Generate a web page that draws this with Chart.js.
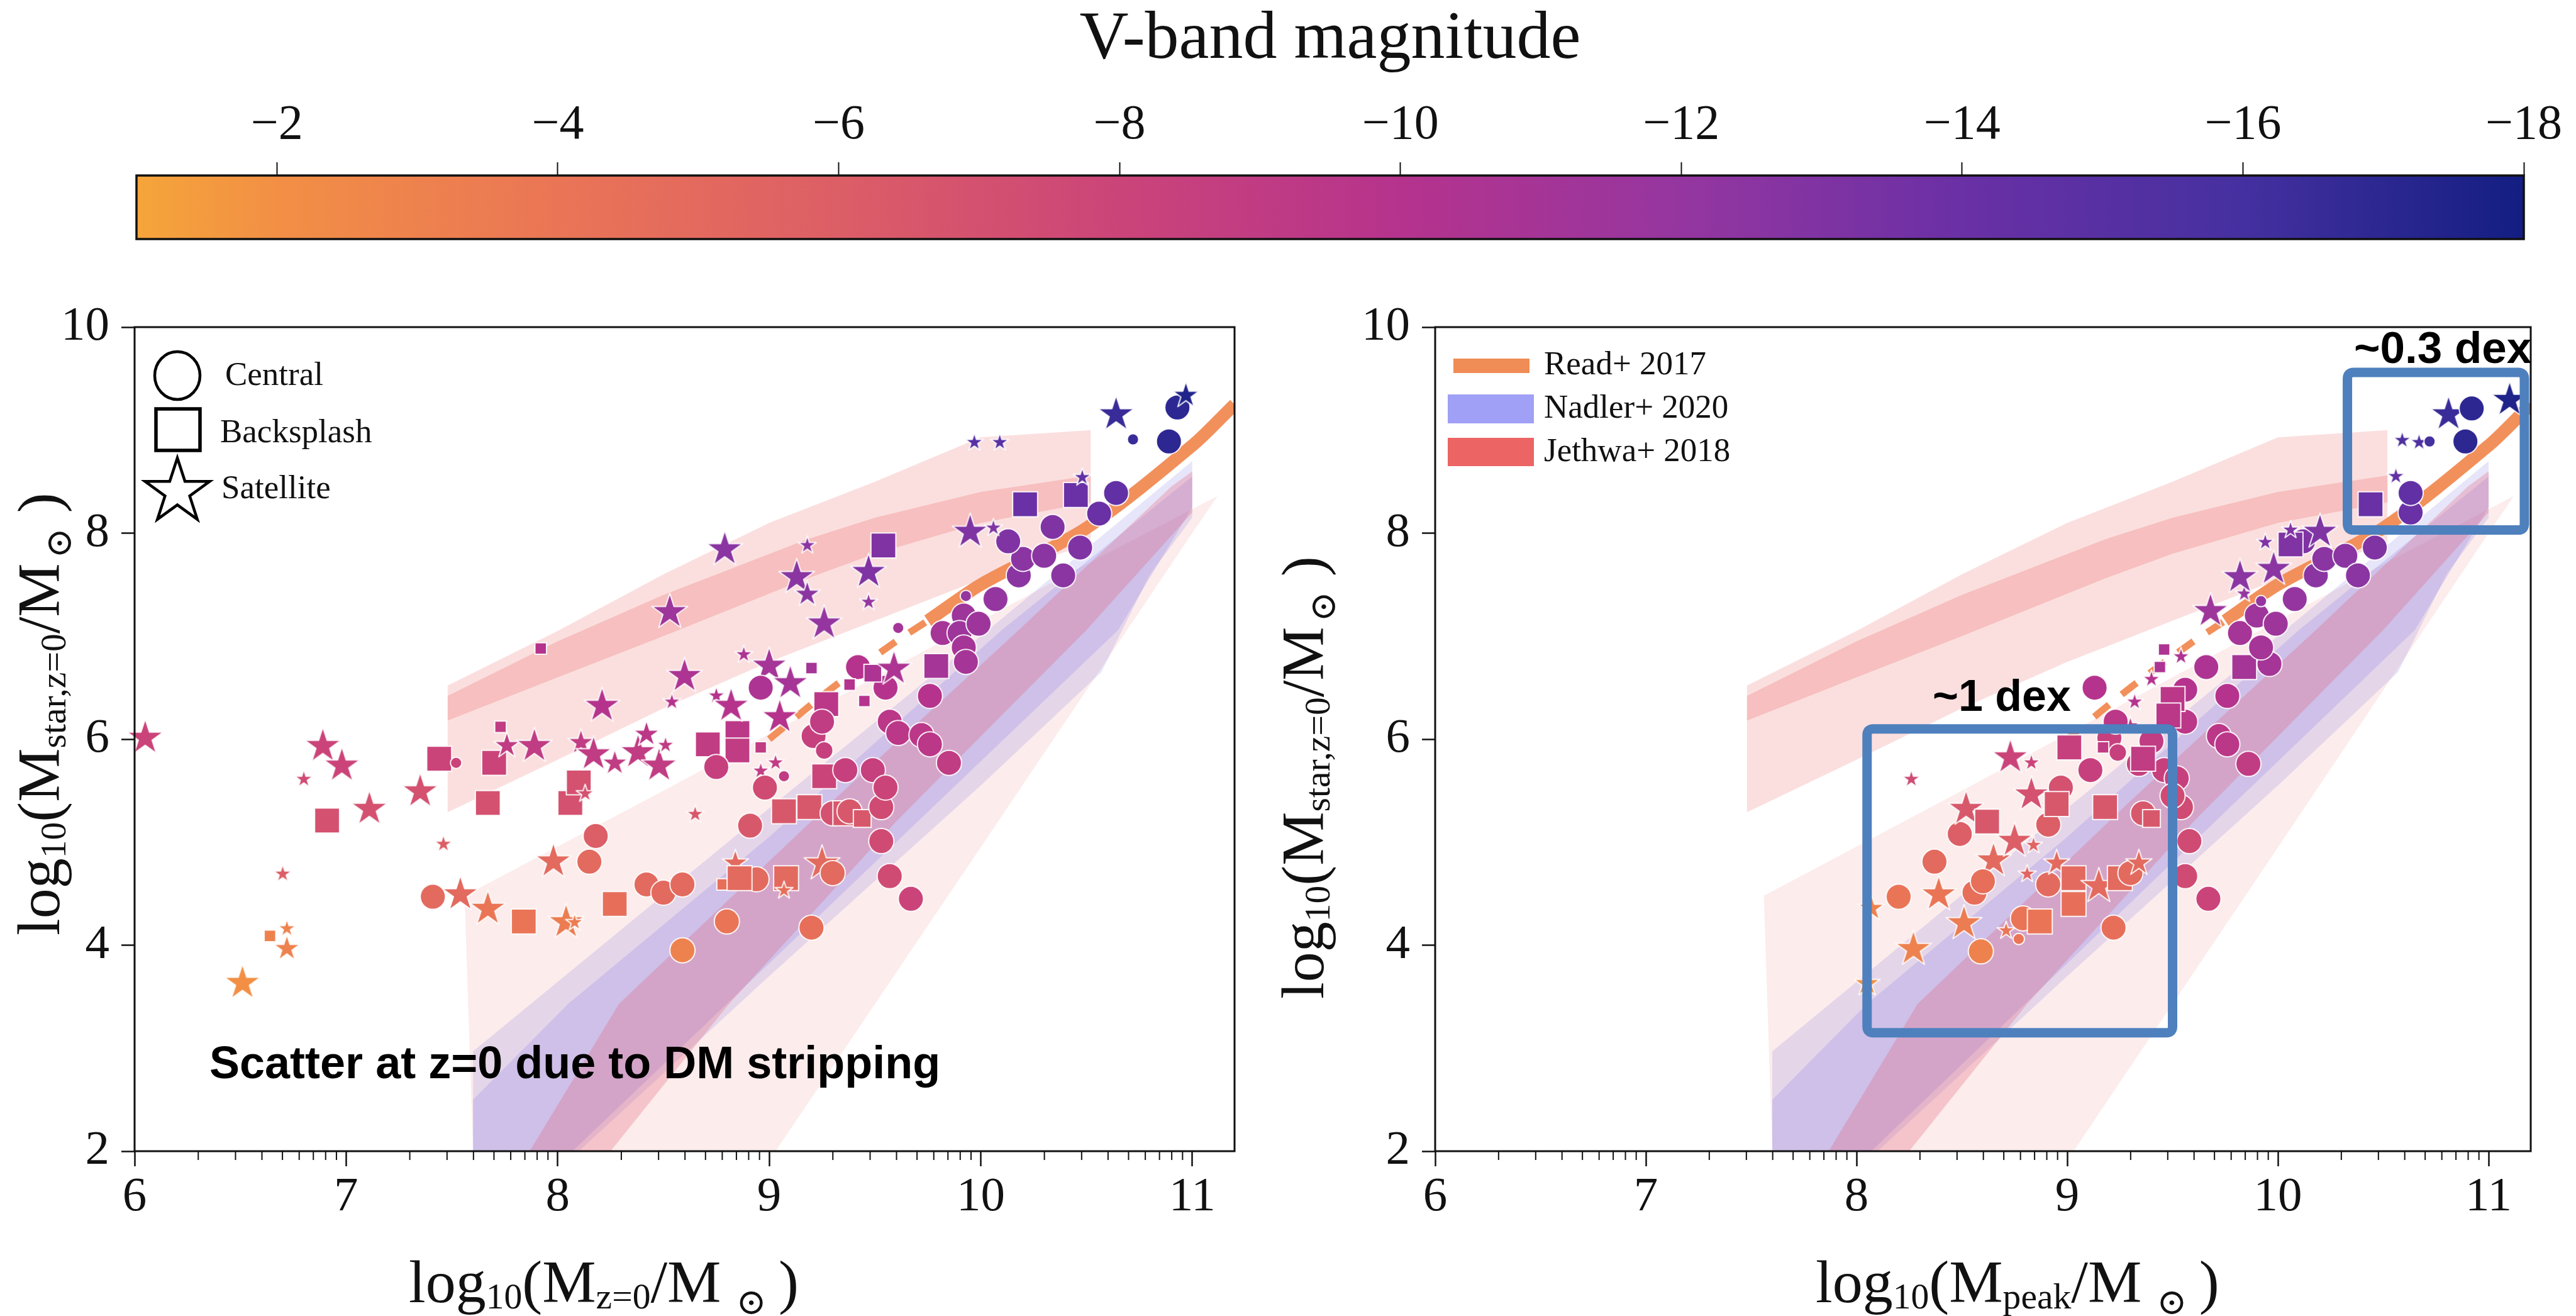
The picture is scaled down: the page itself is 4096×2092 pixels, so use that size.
<!DOCTYPE html>
<html><head><meta charset="utf-8">
<script src="https://cdn.jsdelivr.net/npm/chart.js@4.4.1/dist/chart.umd.min.js"></script>
<style>
html,body{margin:0;padding:0;background:#fff;width:4096px;height:2092px;overflow:hidden}
canvas{position:absolute;left:0;top:0}
</style></head><body>
<canvas id="cb" width="4096" height="2092"></canvas>
<canvas id="left" width="4096" height="2092"></canvas>
<canvas id="right" width="4096" height="2092"></canvas>
<script>
// ---------------- DATA ----------------
const cbTicks = [-2, -4, -6, -8, -10, -12, -14, -16, -18];
const cbRange = [-18, -1];
const xTicks = [6, 7, 8, 9, 10, 11];
const yTicks = [2, 4, 6, 8, 10];
const xRange = [6, 11.2];
const yRange = [2, 10];

// Left panel: log10(M_z=0) vs log10(M_star)
const leftX = [6.05,6.51,6.64,6.72,6.72,6.70,6.80,6.89,6.98,6.91,
 7.11,7.35,7.46,7.41,7.54,7.67,7.44,7.52,7.67,7.70,
 7.73,7.76,7.89,7.92,7.84,8.04,8.08,7.98,8.15,8.18,
 8.06,8.10,8.13,8.11,8.21,8.17,8.27,8.38,8.42,8.48,
 8.51,8.27,8.42,8.50,8.59,8.59,8.54,8.60,8.53,8.79,
 8.65,8.71,8.85,8.85,8.75,8.75,8.82,8.88,9.00,8.96,
 9.05,9.10,9.20,9.03,8.96,9.07,8.96,8.98,8.91,8.84,
 8.78,8.94,8.86,8.80,9.08,9.07,9.07,9.19,9.27,9.26,
 9.21,9.25,9.26,9.36,9.30,9.25,9.30,9.20,9.36,9.38,
 9.44,9.49,9.53,9.55,9.53,9.57,9.67,9.42,9.55,9.57,
 9.61,9.72,9.76,9.76,9.85,9.49,9.38,9.45,9.59,9.61,
 9.79,9.82,9.92,9.90,9.99,9.92,9.93,9.93,10.07,10.18,
 10.20,10.30,10.13,10.34,10.39,10.47,10.56,10.64,10.21,10.45,
 10.48,9.95,10.06,9.13,9.18,9.18,9.47,9.47,9.26,9.54,
 9.97,10.09,10.64,10.72,10.89,10.93,10.97];
const leftY = [6.03,3.65,4.09,4.17,3.98,4.70,5.62,5.95,5.76,5.21,
 5.34,5.51,4.99,4.47,4.51,4.37,5.81,5.77,5.38,5.77,
 6.12,5.95,5.95,6.88,4.23,4.24,4.23,4.83,4.81,5.06,
 5.38,5.58,5.48,5.98,6.34,5.87,5.78,5.89,6.06,5.76,
 5.95,4.40,4.59,4.51,4.59,3.95,6.37,6.63,7.25,7.86,
 5.28,5.95,6.06,5.89,5.73,6.43,6.34,6.83,6.73,6.50,
 6.23,6.56,6.69,5.78,5.70,5.64,5.92,5.53,5.16,4.81,
 4.59,4.64,4.65,4.23,4.65,4.54,5.30,5.34,6.34,5.64,
 6.03,6.17,5.89,5.70,5.28,4.81,4.70,4.17,5.28,5.30,
 5.23,5.70,5.34,5.53,5.01,4.67,4.45,6.70,6.50,6.17,
 6.06,6.04,6.42,5.95,5.77,6.64,6.53,6.37,6.70,7.08,
 6.71,7.03,7.20,7.03,7.12,6.89,6.75,7.39,7.36,7.59,
 7.75,7.78,7.92,8.06,7.59,7.86,8.19,8.39,8.28,8.37,
 8.55,8.03,8.06,7.59,7.42,7.89,7.64,7.34,7.14,7.88,
 8.89,8.89,9.17,8.91,8.89,9.22,9.35];
const leftMag = [-8,-2,-3,-3,-3,-6,-7.5,-8,-8,-7,
 -7,-7,-6,-5,-5,-4,-8,-8,-7,-8,
 -9,-9,-9,-10,-4,-3.5,-3.5,-5,-5,-6,
 -7,-7,-7,-9,-10,-9,-9,-9,-9.5,-9,
 -9,-4.5,-5,-5,-5,-3,-10,-10.5,-11.5,-12.5,
 -6.5,-9,-9.5,-9,-8.5,-10,-10,-10.5,-11,-10.5,
 -10,-11,-11,-9,-9,-9,-9,-7.5,-6.5,-5,
 -4.5,-5,-5,-4,-5,-4.5,-6.5,-6.5,-9.5,-8,
 -8.5,-9,-8.5,-8.5,-7,-5,-5,-4.5,-6.5,-6.5,
 -6.5,-8.5,-7.5,-8,-7.5,-7.5,-8,-10,-10,-9.5,
 -9.5,-9.5,-10,-9.5,-9,-10.5,-10,-10,-10.5,-11,
 -11,-11,-11.5,-11.5,-11.5,-11,-11,-12,-12,-12.5,
 -12.5,-12.5,-13,-13,-12.5,-13,-14,-14.5,-14,-14,
 -14.5,-13,-13,-12.5,-12.5,-12.5,-13,-12,-12,-13,
 -15,-15,-16.5,-16.5,-17,-17,-17.5];
// c = central, b = backsplash, s = satellite
const leftKind = ("ssbssssssb"+"ssscssbcbb"+"bssbbssscc"+"bbssssssss"+"sbccccssss"+
 "sbbbcssssc"+"ssbsscbccs"+"bcbcbsbbbb"+"cccccsccbc"+"bccccccccc"+
 "cccccbbbsc"+"bccccccccc"+"ccccccccbb"+"sssssssssb"+"ssscccs").split("");
// simulation resolution class (0 = fiducial, 1 = mid, 2 = low)
const leftRes = ("0022122000"+"0020000200"+"2102002000"+"0021001010"+"2000002000"+
 "2000020200"+"0022222001"+"2000020000"+"0010000000"+"1000000000"+
 "0000012202"+"0000000200"+"0000000000"+"2020120200"+"2202001").split("").map(Number);

// Right panel: log10(M_peak) vs log10(M_star)
const rightX = [8.05,8.07,8.27,8.20,8.37,8.49,8.39,8.51,8.59,8.65,
 8.56,8.60,8.71,8.79,8.87,8.77,8.75,8.81,8.52,8.62,
 8.26,8.73,8.83,8.83,8.91,8.97,8.84,8.95,8.91,8.95,
 9.03,9.03,9.15,9.22,9.25,9.30,9.34,9.18,9.36,9.40,
 9.54,9.58,9.56,9.67,9.86,9.11,9.20,9.24,9.34,9.40,
 9.46,9.52,9.01,9.17,9.36,9.30,9.13,9.23,9.32,9.40,
 9.46,9.44,9.54,9.56,9.66,9.76,9.56,9.72,9.76,9.50,
 9.48,9.84,9.96,9.92,9.82,9.90,9.99,9.68,9.84,9.82,
 9.98,9.92,10.08,10.18,10.22,10.32,10.38,10.12,10.46,10.06,
 9.94,10.20,10.06,10.63,10.63,10.44,10.56,10.59,10.67,10.72,
 10.81,10.89,10.92,11.10,9.50];
const rightY = [3.64,4.37,3.98,4.47,4.81,5.08,4.51,4.23,3.94,4.84,
 4.51,4.62,4.15,4.26,4.23,4.06,5.03,4.70,5.34,5.20,
 5.62,5.84,5.78,5.48,5.17,5.53,4.98,5.37,4.59,4.81,
 4.65,4.40,4.59,4.17,4.65,4.70,4.81,5.34,5.28,5.23,
 5.34,5.01,4.67,4.45,5.76,5.70,6.01,5.87,5.76,5.98,
 5.70,5.62,5.92,5.92,5.81,6.14,6.50,6.17,6.37,6.59,
 6.87,6.70,6.81,6.48,6.70,6.42,6.17,6.03,5.95,6.39,
 6.23,6.70,6.73,6.89,7.03,7.20,7.12,7.26,7.42,7.59,
 7.67,7.34,7.36,7.59,7.75,7.78,7.59,7.92,7.86,7.89,
 7.92,8.03,8.04,8.20,8.39,8.28,8.56,8.91,8.89,8.89,
 9.17,8.89,9.21,9.31,5.45];
const rightMag = [-2,-3,-3,-4,-5,-6,-4,-3.5,-3,-5,
 -4.5,-4.5,-4,-4,-4,-4,-6,-5.5,-6.5,-6.5,
 -7.5,-8,-8,-7,-6,-7,-5.5,-6.5,-5,-5,
 -5,-4.5,-5,-4.5,-5,-5,-5,-6.5,-6.5,-6.5,
 -7.5,-7.5,-7.5,-8,-9,-8.5,-8.5,-8.5,-8.5,-9,
 -8.5,-8.5,-8.5,-9,-9,-9.5,-10,-9.5,-10,-10,
 -10.5,-10.5,-10.5,-10,-10.5,-10,-9.5,-9.5,-9.5,-9.5,
 -9.5,-11,-11,-11,-11,-11.5,-11.5,-11.5,-12,-12.5,
 -12.5,-12,-12,-12.5,-12.5,-12.5,-12.5,-13,-13,-13,
 -13,-13,-13,-14,-14.5,-14,-14.5,-15.5,-15.5,-16,
 -16.5,-17,-17,-17.5,-7.5];
const rightKind = ("ssscccsscs"+"ccscbcsssb"+"ssssccsbcs"+"bbscbcsbcb"+"cccccccccc"+
 "ccbbbsccss"+"bbsccccccb"+"bbcccccsss"+"sccccccccb"+"sssccbsssc"+"sccsc").split("");
const rightRes = ("1100000000"+"0020020200"+"2020002001"+"0000001001"+"0000000100"+
 "0002020022"+"2220000000"+"0000000020"+"0200000000"+"2020002222"+"00000").split("").map(Number);

// Reference relations (same in both panels)
const readX = [9.0, 9.3, 9.6, 9.75, 10.0, 10.5, 11.0, 11.2];
const readY = [6.0, 6.5, 6.95, 7.15, 7.5, 8.05, 8.85, 9.25];
const jethwaHi95X = [7.48, 8.0, 8.5, 9.0, 9.5, 10.0, 10.52, 10.52, 10.0, 9.5, 9.0, 8.5, 8.0, 7.48];
const jethwaHi95Y = [6.52, 7.05, 7.6, 8.1, 8.5, 8.93, 9.0, 7.9, 7.55, 7.15, 6.75, 6.3, 5.8, 5.29];
const jethwaHi68X = [7.48, 8.0, 8.5, 9.18, 9.5, 10.0, 10.52, 10.52, 10.0, 9.5, 9.18, 8.5, 8.0, 7.48];
const jethwaHi68Y = [6.42, 6.95, 7.4, 7.94, 8.15, 8.4, 8.56, 8.3, 8.1, 7.8, 7.56, 7.0, 6.6, 6.18];
const jethwaLo95X = [7.56, 8.5, 9.5, 10.5, 11.12, 11.0, 10.0, 9.03, 8.9, 7.62, 7.6];
const jethwaLo95Y = [4.48, 5.5, 6.6, 7.7, 8.36, 8.0, 4.95, 2.0, 1.5, 1.5, 2.0];
const jethwaLo68X = [7.72, 8.29, 9.3, 10.18, 10.9, 11.0, 11.0, 10.5, 9.6, 8.81, 8.25, 8.1];
const jethwaLo68Y = [1.5, 3.43, 5.4, 7.06, 8.45, 8.6, 8.2, 7.06, 5.2, 3.43, 2.0, 1.5];
const nadler95X = [7.6, 7.6, 9.0, 10.0, 11.0, 11.0, 10.8, 10.57, 10.0, 9.0, 8.1, 7.85];
const nadler95Y = [1.5, 2.97, 5.33, 7.0, 8.7, 8.15, 7.6, 6.65, 5.55, 3.7, 2.0, 1.5];
const nadler68X = [7.6, 7.6, 8.05, 9.0, 10.1, 11.0, 11.0, 10.65, 9.6, 8.8, 8.07, 7.85];
const nadler68Y = [1.5, 2.5, 3.43, 5.05, 7.06, 8.55, 8.25, 7.06, 5.0, 3.43, 2.0, 1.5];

// annotation boxes on the right panel (data coords)
const boxX0 = [8.05, 10.33];
const boxY0 = [3.15, 8.03];
const boxX1 = [9.50, 11.17];
const boxY1 = [6.10, 9.56];

// ---------------- STYLE ----------------
const W = 4096, H = 2092;
const SERIF = "'Liberation Serif','DejaVu Serif',serif";
const SANS = "'Liberation Sans','DejaVu Sans',sans-serif";
const INK = '#111';
const cmapMag = [-1, -2, -4, -6, -8, -10, -12, -14, -16, -18];
const cmapHex = ['#F5A53A','#F28F45','#EA7556','#DC5E66','#CB4479','#B5338D','#9536A0','#6A30A5','#4530A0','#131E82'];
const CIRC_R = [20, 14, 9];
const RECT_R = [28, 20, 13];
const STAR_R = [30, 22, 15];

function hexRgb(h) { const n = parseInt(h.slice(1), 16); return [(n >> 16) & 255, (n >> 8) & 255, n & 255]; }
const cmapRgb = cmapHex.map(hexRgb);
function magColor(m) {
  m = Math.max(-18, Math.min(-1, m));
  for (let i = 0; i < cmapMag.length - 1; i++) {
    const a = cmapMag[i], b = cmapMag[i + 1];
    if (m <= a && m >= b) {
      const t = (a - m) / (a - b);
      const c = cmapRgb[i].map((v, k) => Math.round(v + (cmapRgb[i + 1][k] - v) * t));
      return `rgb(${c[0]},${c[1]},${c[2]})`;
    }
  }
  return cmapHex[cmapHex.length - 1];
}
const starCache = {};
function starPath(g, cx, cy, R) {
  g.beginPath();
  for (let i = 0; i < 10; i++) {
    const r = i % 2 === 0 ? R : R * 0.382;
    const a = -Math.PI / 2 + i * Math.PI / 5;
    const px = cx + r * Math.cos(a), py = cy + r * Math.sin(a);
    if (i === 0) g.moveTo(px, py); else g.lineTo(px, py);
  }
  g.closePath();
}
function starImg(color, R) {
  const key = color + '|' + R;
  if (starCache[key]) return starCache[key];
  const size = Math.ceil(2 * R + 8);
  const c = document.createElement('canvas');
  c.width = size; c.height = size;
  const g = c.getContext('2d');
  starPath(g, size / 2, size / 2 + R * 0.1, R);
  g.fillStyle = color; g.fill();
  g.lineWidth = 2; g.lineJoin = 'round'; g.strokeStyle = 'rgba(255,255,255,0.9)'; g.stroke();
  starCache[key] = c;
  return c;
}

function bandDs(xs, ys, color, order) {
  return { type: 'line', data: xs.map((x, i) => ({ x, y: ys[i] })), fill: 'shape',
    backgroundColor: color, borderColor: 'rgba(0,0,0,0)', borderWidth: 0, pointRadius: 0,
    tension: 0, order };
}
function readDs() {
  return { type: 'line', data: readX.map((x, i) => ({ x, y: readY[i] })), fill: false,
    borderColor: 'rgba(241,138,82,0.95)', borderWidth: 20, pointRadius: 0, tension: 0.3,
    borderCapStyle: 'butt', order: 1,
    segment: {
      borderDash: c => c.p1.parsed.x <= 9.75 ? [30, 26] : undefined,
      borderWidth: c => c.p1.parsed.x <= 9.75 ? 11 : 20
    } };
}
function markerDs(xs, ys, mags, kinds, res) {
  const data = xs.map((x, i) => ({ x, y: ys[i], m: mags[i], k: kinds[i], r: res[i] || 0 }));
  return { type: 'scatter', data, order: 0, clip: false,
    pointStyle: c => { const p = c.raw; if (!p) return 'circle';
      if (p.k === 's') return starImg(magColor(p.m), STAR_R[p.r]);
      return p.k === 'b' ? 'rect' : 'circle'; },
    pointRadius: c => { const p = c.raw; if (!p) return 10;
      return p.k === 'b' ? RECT_R[p.r] : p.k === 's' ? STAR_R[p.r] : CIRC_R[p.r]; },
    backgroundColor: c => c.raw ? magColor(c.raw.m) : '#000',
    borderColor: 'rgba(255,255,255,0.9)', borderWidth: 2 };
}
function allBands() {
  return [
    bandDs(jethwaLo95X, jethwaLo95Y, 'rgba(234,95,95,0.12)', 9),
    bandDs(jethwaHi95X, jethwaHi95Y, 'rgba(234,95,95,0.20)', 8),
    bandDs(jethwaHi68X, jethwaHi68Y, 'rgba(234,95,95,0.25)', 7),
    bandDs(nadler95X, nadler95Y, 'rgba(125,115,225,0.19)', 6),
    bandDs(nadler68X, nadler68Y, 'rgba(125,115,225,0.21)', 5),
    bandDs(jethwaLo68X, jethwaLo68Y, 'rgba(225,95,120,0.28)', 4),
    readDs()
  ];
}

function drawRich(ctx, parts, x, y, rot, size) {
  ctx.save();
  ctx.translate(x, y);
  if (rot) ctx.rotate(rot);
  ctx.fillStyle = INK; ctx.textAlign = 'left'; ctx.textBaseline = 'alphabetic';
  let cx = 0;
  for (const p of parts) {
    const s = size * (p.s || 1);
    ctx.font = `${s}px ${SERIF}`;
    cx += (p.gap || 0) * size;
    ctx.fillText(p.t, cx, (p.dy || 0) * size);
    cx += ctx.measureText(p.t).width;
  }
  ctx.restore();
}
const SUN = '\u2299';
const yTitleParts = [{t:'log'},{t:'10',s:0.6,dy:0.1},{t:'('},{t:'M'},{t:'star,z=0',s:0.6,dy:0.1},{t:'/'},{t:'M'},{t:SUN,s:0.6,dy:0.2,gap:0.08},{t:')',gap:0.25}];
const xTitleLeft = [{t:'log'},{t:'10',s:0.6,dy:0.1},{t:'('},{t:'M'},{t:'z=0',s:0.6,dy:0.1},{t:'/'},{t:'M'},{t:SUN,s:0.6,dy:0.2,gap:0.25},{t:')',gap:0.2}];
const xTitleRight = [{t:'log'},{t:'10',s:0.6,dy:0.1},{t:'('},{t:'M'},{t:'peak',s:0.6,dy:0.1},{t:'/'},{t:'M'},{t:SUN,s:0.6,dy:0.2,gap:0.25},{t:')',gap:0.2}];

const framePlugin = {
  id: 'frame',
  afterDatasetsDraw(chart) {
    const ctx = chart.ctx, a = chart.chartArea, sx = chart.scales.x;
    ctx.save();
    ctx.strokeStyle = INK; ctx.lineWidth = 3;
    ctx.strokeRect(a.left, a.top, a.right - a.left, a.bottom - a.top);
    ctx.lineWidth = 2;
    ctx.beginPath();
    for (let n = xTicks[0]; n <= xTicks[xTicks.length - 1]; n++) {
      for (let k = 2; k <= 9; k++) {
        const v = n + Math.log10(k);
        if (v >= xRange[1]) continue;
        const px = sx.getPixelForValue(v);
        ctx.moveTo(px, a.bottom); ctx.lineTo(px, a.bottom + 14);
      }
    }
    ctx.stroke();
    ctx.restore();
  }
};

function roundRect(ctx, x, y, w, h, r) {
  ctx.beginPath();
  ctx.moveTo(x + r, y); ctx.lineTo(x + w - r, y); ctx.quadraticCurveTo(x + w, y, x + w, y + r);
  ctx.lineTo(x + w, y + h - r); ctx.quadraticCurveTo(x + w, y + h, x + w - r, y + h);
  ctx.lineTo(x + r, y + h); ctx.quadraticCurveTo(x, y + h, x, y + h - r);
  ctx.lineTo(x, y + r); ctx.quadraticCurveTo(x, y, x + r, y);
  ctx.closePath();
}

const leftDecor = {
  id: 'leftDecor',
  afterDraw(chart) {
    const ctx = chart.ctx;
    ctx.save();
    ctx.strokeStyle = '#000'; ctx.lineWidth = 4.5;
    ctx.beginPath(); ctx.ellipse(282, 597, 36, 38, 0, 0, Math.PI * 2); ctx.stroke();
    ctx.lineWidth = 5.5; ctx.strokeRect(248, 650, 70, 66);
    ctx.lineWidth = 4.5; ctx.lineJoin = 'miter'; starPath(ctx, 282, 782, 54); ctx.stroke();
    ctx.fillStyle = INK; ctx.font = `53px ${SERIF}`; ctx.textBaseline = 'middle'; ctx.textAlign = 'left';
    ctx.fillText('Central', 358, 598);
    ctx.fillText('Backsplash', 350, 689);
    ctx.fillText('Satellite', 352, 778);
    ctx.font = `bold 72px ${SANS}`; ctx.textBaseline = 'alphabetic';
    ctx.fillStyle = '#000';
    ctx.fillText('Scatter at z=0 due to DM stripping', 333, 1714);
    ctx.restore();
    drawRich(ctx, xTitleLeft, 650, 2070, 0, 96);
    drawRich(ctx, yTitleParts, 94, 1487, -Math.PI / 2, 96);
  }
};

const rightDecor = {
  id: 'rightDecor',
  afterDraw(chart) {
    const ctx = chart.ctx, sx = chart.scales.x, sy = chart.scales.y;
    ctx.save();
    ctx.fillStyle = '#F08C55'; ctx.fillRect(2311, 570, 121, 23);
    ctx.fillStyle = '#A0A0F6'; ctx.fillRect(2302, 627, 137, 46);
    ctx.fillStyle = '#EC6464'; ctx.fillRect(2302, 696, 137, 45);
    ctx.fillStyle = INK; ctx.font = `53px ${SERIF}`; ctx.textBaseline = 'middle'; ctx.textAlign = 'left';
    ctx.fillText('Read+ 2017', 2455, 581);
    ctx.fillText('Nadler+ 2020', 2455, 650);
    ctx.fillText('Jethwa+ 2018', 2455, 719);
    ctx.strokeStyle = '#4E80BE'; ctx.lineWidth = 15; ctx.lineJoin = 'round';
    for (let i = 0; i < boxX0.length; i++) {
      const x0 = sx.getPixelForValue(boxX0[i]), x1 = sx.getPixelForValue(boxX1[i]);
      const y0 = sy.getPixelForValue(boxY1[i]), y1 = sy.getPixelForValue(boxY0[i]);
      roundRect(ctx, x0, y0, x1 - x0, y1 - y0, 10);
      ctx.stroke();
    }
    ctx.fillStyle = '#000'; ctx.textBaseline = 'alphabetic';
    ctx.font = `bold 70px ${SANS}`; ctx.fillText('~1 dex', 3073, 1130);
    ctx.font = `bold 71px ${SANS}`; ctx.fillText('~0.3 dex', 3743, 577);
    ctx.restore();
    drawRich(ctx, xTitleRight, 2887, 2070, 0, 96);
    drawRich(ctx, yTitleParts, 2104, 1588, -Math.PI / 2, 96);
  }
};

const YW = 120, XH = 110;
function panel(id, area, xs, ys, mags, kinds, res, decor) {
  const tickFont = { family: SERIF, size: 77 };
  return new Chart(document.getElementById(id), {
    type: 'scatter',
    data: { datasets: [...allBands(), markerDs(xs, ys, mags, kinds, res)] },
    options: {
      animation: false, responsive: false, devicePixelRatio: 1, events: [],
      layout: { padding: { left: area.l - YW, top: area.t, right: W - area.r, bottom: H - area.b - XH } },
      plugins: { legend: { display: false }, tooltip: { enabled: false } },
      scales: {
        x: { type: 'linear', min: xRange[0], max: xRange[1],
          afterBuildTicks: s => { s.ticks = xTicks.map(v => ({ value: v })); },
          afterFit: s => { s.height = XH; },
          grid: { display: true, drawOnChartArea: false, drawTicks: true, tickLength: 24, tickWidth: 2.5, color: INK, tickColor: INK },
          border: { display: false },
          ticks: { font: tickFont, color: INK, padding: 4, maxRotation: 0, autoSkip: false } },
        y: { type: 'linear', min: yRange[0], max: yRange[1],
          afterBuildTicks: s => { s.ticks = yTicks.map(v => ({ value: v })); },
          afterFit: s => { s.width = YW; },
          grid: { display: true, drawOnChartArea: false, drawTicks: true, tickLength: 21, tickWidth: 2.5, color: INK, tickColor: INK },
          border: { display: false },
          ticks: { font: tickFont, color: INK, padding: 19, autoSkip: false } }
      }
    },
    plugins: [framePlugin, decor]
  });
}

// ---------------- COLORBAR ----------------
const cbarPlugin = {
  id: 'cbar',
  beforeDatasetsDraw(chart) {
    const ctx = chart.ctx, a = chart.chartArea, sx = chart.scales.x;
    const x0 = sx.getPixelForValue(cmapMag[0]), x1 = sx.getPixelForValue(cmapMag[cmapMag.length - 1]);
    const g = ctx.createLinearGradient(x0, 0, x1, 0);
    cmapMag.forEach((v, i) => g.addColorStop((sx.getPixelForValue(v) - x0) / (x1 - x0), cmapHex[i]));
    ctx.save();
    ctx.fillStyle = g;
    ctx.fillRect(a.left, a.top, a.right - a.left, a.bottom - a.top);
    ctx.strokeStyle = INK; ctx.lineWidth = 3.5;
    ctx.strokeRect(a.left, a.top, a.right - a.left, a.bottom - a.top);
    ctx.fillStyle = INK; ctx.font = `108px ${SERIF}`; ctx.textAlign = 'center'; ctx.textBaseline = 'alphabetic';
    ctx.fillText('V-band magnitude', (a.left + a.right) / 2, 92);
    ctx.restore();
  }
};
const CB = { l: 217, t: 279, r: 4013, b: 380 };
new Chart(document.getElementById('cb'), {
  type: 'scatter',
  data: { datasets: [{ data: [] }] },
  options: {
    animation: false, responsive: false, devicePixelRatio: 1, events: [],
    layout: { padding: { left: CB.l, top: CB.t - 150, right: W - CB.r, bottom: H - CB.b } },
    plugins: { legend: { display: false }, tooltip: { enabled: false } },
    scales: {
      x: { type: 'linear', position: 'top', reverse: true, min: cbRange[0], max: cbRange[1],
        afterBuildTicks: s => { s.ticks = cbTicks.map(v => ({ value: v })); },
        afterFit: s => { s.height = 150; },
        grid: { display: true, drawOnChartArea: false, drawTicks: true, tickLength: 21, tickWidth: 2, color: INK, tickColor: INK },
        border: { display: false },
        ticks: { font: { family: SERIF, size: 78 }, color: INK, padding: 12, maxRotation: 0, autoSkip: false,
          callback: v => (v < 0 ? '\u2212' : '') + Math.abs(v) } },
      y: { display: false, min: 0, max: 1 }
    }
  },
  plugins: [cbarPlugin]
});

panel('left', { l: 214, t: 520, r: 1963, b: 1830 }, leftX, leftY, leftMag, leftKind, leftRes, leftDecor);
panel('right', { l: 2282, t: 520, r: 4024, b: 1830 }, rightX, rightY, rightMag, rightKind, rightRes, rightDecor);
</script></body></html>
